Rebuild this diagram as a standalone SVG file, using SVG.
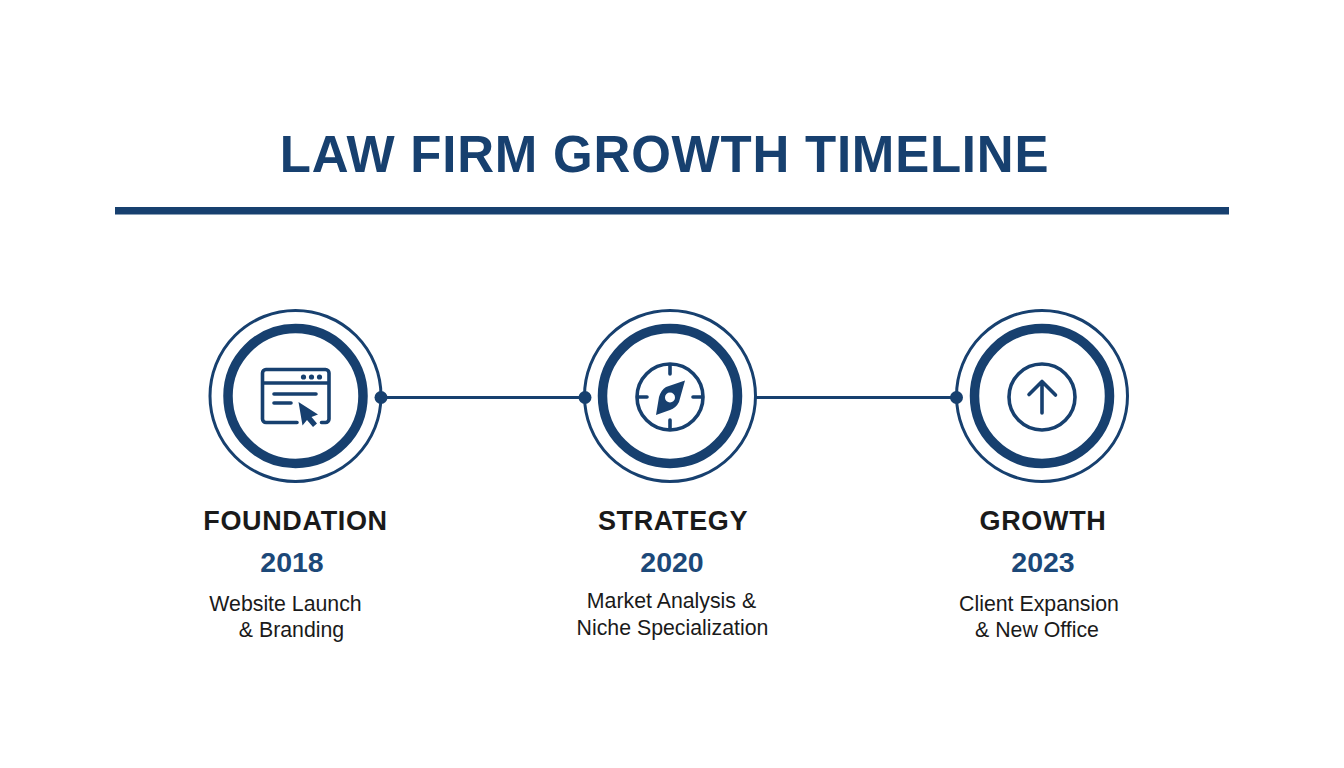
<svg xmlns="http://www.w3.org/2000/svg" width="1344" height="768" viewBox="0 0 1344 768">
<style>
text{font-family:"Liberation Sans",Arial,sans-serif;text-anchor:middle}
.title{font-size:51px;font-weight:700;fill:#17406f;letter-spacing:.78px}
.name{font-size:27px;font-weight:700;fill:#1a1a1a;letter-spacing:.65px}
.year{font-size:28.500px;font-weight:700;fill:#1c4878}
.desc{font-size:21.300px;fill:#1a1a1a}
.outer{fill:#fff;stroke:#17406f;stroke-width:3}
.inner{fill:#fff;stroke:#17406f;stroke-width:9.500}
.ln{fill:none;stroke:#17406f;stroke-width:3.600;stroke-linecap:round;stroke-linejoin:round}
.fl{fill:#17406f}
</style>
<rect width="1344" height="768" fill="#fff"/>
<g id="header">
<text class="title" x="664.500" y="172">LAW FIRM GROWTH TIMELINE</text>
<rect class="fl" x="115" y="207" width="1114" height="7.500"/>
</g>
<g id="connectors" fill="none" stroke="#17406f" stroke-width="3">
<line x1="381" y1="397.500" x2="585" y2="397.500"/>
<line x1="756" y1="397.500" x2="956" y2="397.500"/>
</g>
<g id="node-foundation">
<circle class="outer" cx="295.500" cy="396" r="85.500"/>
<circle class="inner" cx="295.500" cy="396" r="67.500"/>
<path class="ln" d="M297 422.500H266a3.500 3.500 0 0 1-3.500-3.500V373a3.500 3.500 0 0 1 3.500-3.500h59.500a3.500 3.500 0 0 1 3.500 3.500v46a3.500 3.500 0 0 1-3.500 3.500h-4M263 383h66"/>
<circle class="fl" cx="303.500" cy="377" r="2.600"/><circle class="fl" cx="311.500" cy="377" r="2.600"/><circle class="fl" cx="319.500" cy="377" r="2.600"/>
<path class="ln" d="M274 394h42M274 403h17" stroke-linecap="butt"/>
<path class="fl" d="M298.500 402L318 414.500l-6.500 2.500 5.500 6.500-4 3.500-6-7-4.500 5.500z"/>
<circle class="fl" cx="381" cy="397.500" r="6.500"/>
<text class="name" x="295.500" y="530">FOUNDATION</text>
<text class="year" x="292" y="572">2018</text>
<text class="desc" x="285.500" y="611">Website Launch</text>
<text class="desc" x="291.500" y="637">&amp; Branding</text>
</g>
<g id="node-strategy">
<circle class="outer" cx="670" cy="396" r="85.500"/>
<circle class="inner" cx="670" cy="396" r="67.500"/>
<circle class="ln" cx="670" cy="397" r="33"/>
<path class="ln" d="M670 365v9M670 420v9M638 397h9M693 397h9" stroke-linecap="butt"/>
<path class="fl" d="M685 380.500L679 402Q676 408 670 410L656 415L659 397Q661 390 666 387z"/>
<circle cx="670" cy="397.500" r="5" fill="#fff"/>
<circle class="fl" cx="585" cy="397.500" r="6.500"/>
<text class="name" x="673" y="530">STRATEGY</text>
<text class="year" x="672" y="572">2020</text>
<text class="desc" x="671.500" y="608">Market Analysis &amp;</text>
<text class="desc" x="672.500" y="635">Niche Specialization</text>
</g>
<g id="node-growth">
<circle class="outer" cx="1042" cy="396" r="85.500"/>
<circle class="inner" cx="1042" cy="396" r="67.500"/>
<circle class="ln" cx="1042" cy="397" r="33"/>
<path class="ln" d="M1042 413V382M1029 394.500l13-13 13.500 13.500" stroke-width="4"/>
<circle class="fl" cx="956.500" cy="397.500" r="6.500"/>
<text class="name" x="1043" y="530">GROWTH</text>
<text class="year" x="1043" y="572">2023</text>
<text class="desc" x="1039" y="611">Client Expansion</text>
<text class="desc" x="1037" y="637">&amp; New Office</text>
</g>
</svg>
